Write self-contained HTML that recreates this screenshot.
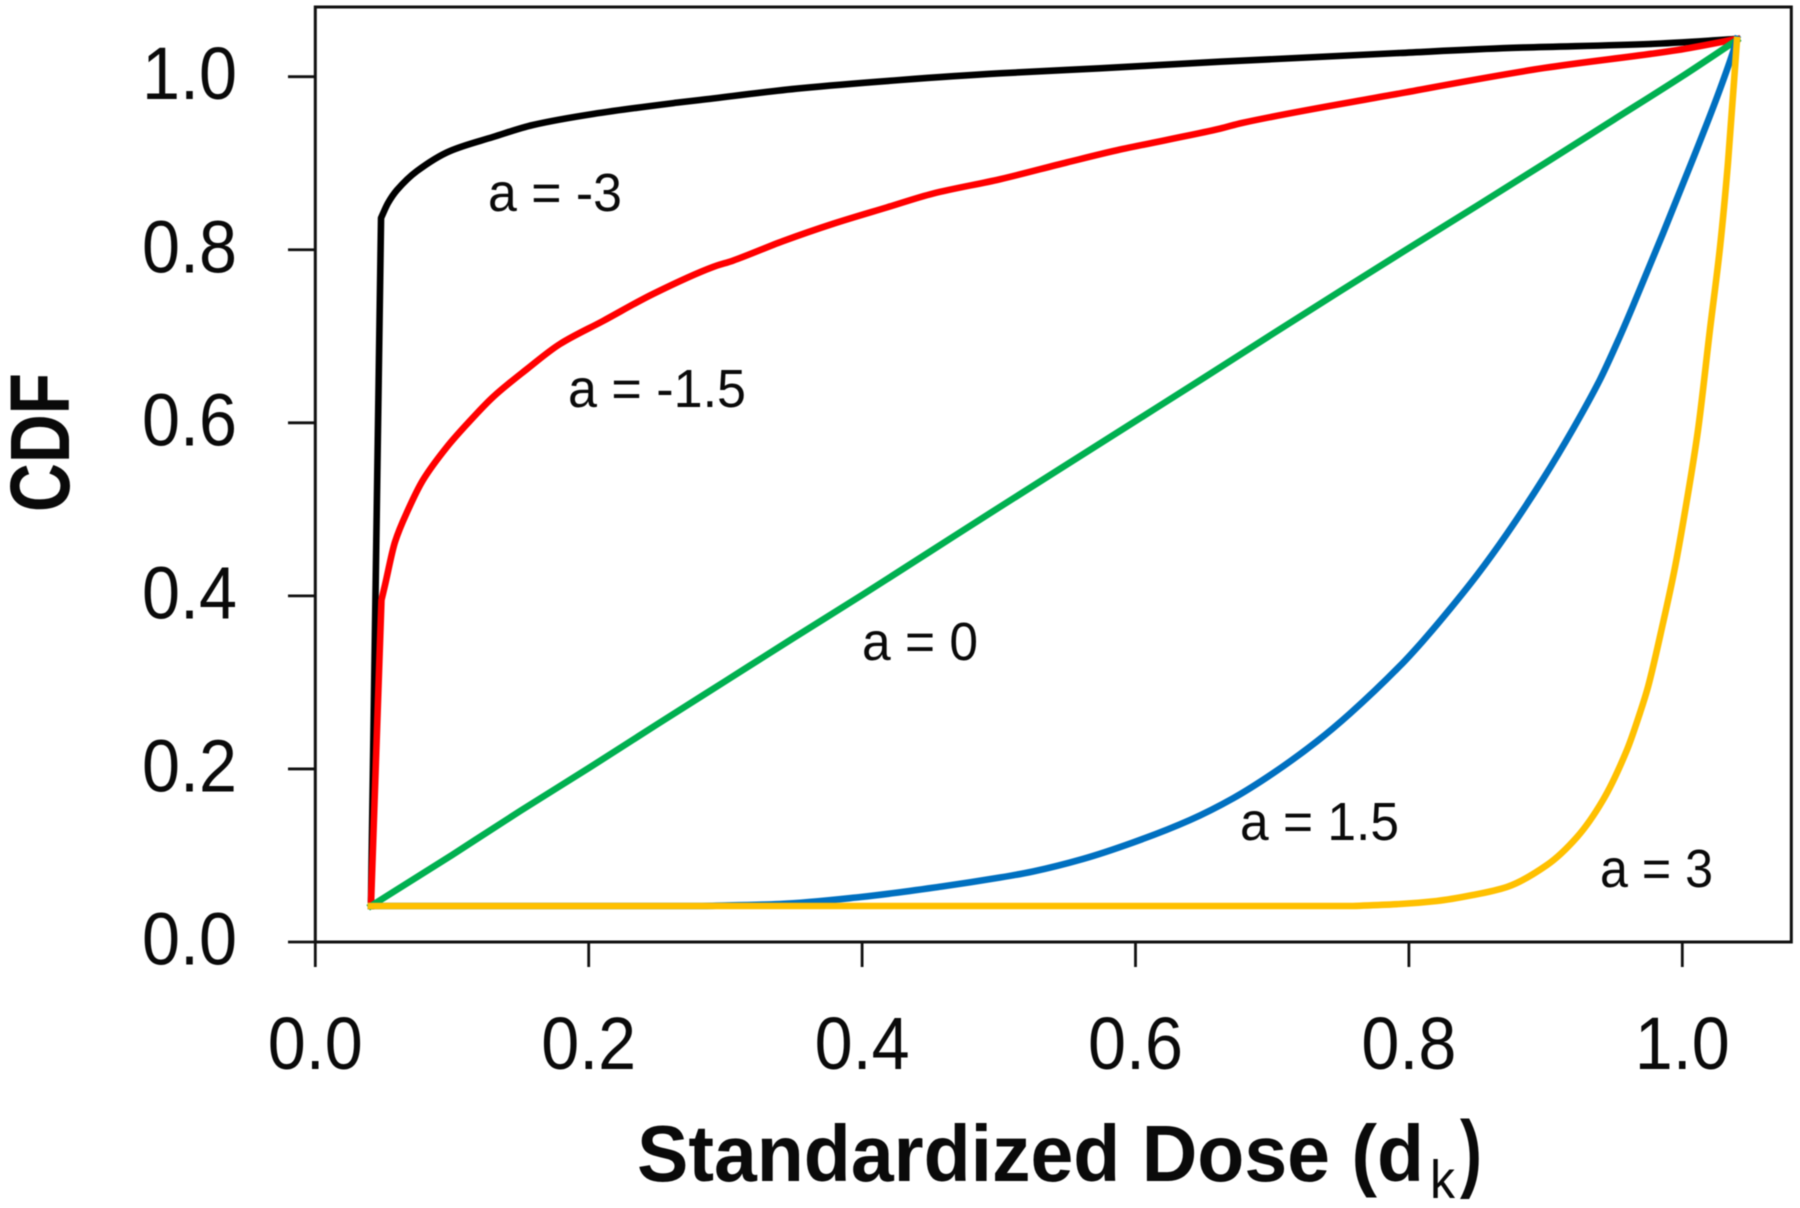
<!DOCTYPE html>
<html lang="en">
<head>
<meta charset="utf-8">
<title>CDF vs Standardized Dose</title>
<style>
  html, body { margin: 0; padding: 0; background: #fff; }
  #chart { display: block; width: 1800px; height: 1208px; filter: blur(0.5px); }
  text { font-family: "Liberation Sans", Arial, sans-serif; fill: #0a0a0a; }
</style>
</head>
<body>
<svg id="chart" xmlns="http://www.w3.org/2000/svg" width="1800" height="1208" viewBox="0 0 1800 1208">
  <rect x="0" y="0" width="1800" height="1208" fill="#ffffff"/>
  <g id="series-layer"></g>
  <rect x="315.3" y="7" width="1476" height="935" fill="none" stroke="#111111" stroke-width="3"/>
  <g id="axis-layer"></g>

  <text x="488" y="211" font-size="54" textLength="134" lengthAdjust="spacingAndGlyphs">a = -3</text>
  <text x="568" y="407" font-size="54" textLength="178" lengthAdjust="spacingAndGlyphs">a = -1.5</text>
  <text x="862" y="660" font-size="54" textLength="116" lengthAdjust="spacingAndGlyphs">a = 0</text>
  <text x="1240" y="840" font-size="54" textLength="159" lengthAdjust="spacingAndGlyphs">a = 1.5</text>
  <text x="1600" y="887" font-size="54" textLength="113" lengthAdjust="spacingAndGlyphs">a = 3</text>

  <text transform="translate(69 512) rotate(-90)" x="0" y="0" font-size="84" font-weight="700" textLength="139" lengthAdjust="spacingAndGlyphs">CDF</text>

  <text x="637" y="1181" font-size="80" font-weight="700" textLength="787" lengthAdjust="spacingAndGlyphs">Standardized Dose (d</text>
  <text x="1430" y="1198" font-size="54" textLength="25" lengthAdjust="spacingAndGlyphs">k</text>
  <text x="1460" y="1181" font-size="86" font-weight="700" textLength="22" lengthAdjust="spacingAndGlyphs">)</text>
</svg>

<script>
// Tick values and labels
const xTickValues = [0, 0.2, 0.4, 0.6, 0.8, 1.0];
const yTickValues = [0, 0.2, 0.4, 0.6, 0.8, 1.0];
const xTickLabels = ["0.0", "0.2", "0.4", "0.6", "0.8", "1.0"];
const yTickLabels = ["0.0", "0.2", "0.4", "0.6", "0.8", "1.0"];

// a = -3
const blackDose = [0.0407, 0.0481, 0.0532, 0.0598, 0.0744, 0.0985, 0.1300, 0.1592, 0.2031, 0.2646, 0.2814, 0.3546, 0.4278, 0.5009, 0.5741, 0.6619, 0.7934, 0.8739, 0.9763, 1.0400];
const blackCdf  = [0.0416, 0.8367, 0.8540, 0.8691, 0.8910, 0.9141, 0.9303, 0.9442, 0.9569, 0.9700, 0.9731, 0.9866, 0.9962, 1.0039, 1.0097, 1.0173, 1.0274, 1.0332, 1.0378, 1.0436];

// a = -1.5
const redDose = [0.0407, 0.0484, 0.0510, 0.0583, 0.0678, 0.0788, 0.0963, 0.1110, 0.1300, 0.1549, 0.1790, 0.2105, 0.2470, 0.2909, 0.3056, 0.3421, 0.3787, 0.4182, 0.4519, 0.5009, 0.5499, 0.5865, 0.6231, 0.6619, 0.6778, 0.7868, 0.8987, 0.9967, 1.0400];
const redCdf  = [0.0416, 0.3952, 0.4126, 0.4623, 0.4992, 0.5339, 0.5721, 0.5986, 0.6298, 0.6622, 0.6911, 0.7177, 0.7489, 0.7801, 0.7875, 0.8100, 0.8300, 0.8490, 0.8650, 0.8815, 0.9010, 0.9150, 0.9270, 0.9400, 0.9465, 0.9788, 1.0100, 1.0309, 1.0436];

// a = 0
const greenDose = [0.0407, 0.1000, 0.1500, 0.2000, 0.2500, 0.3000, 0.3500, 0.4000, 0.4500, 0.5000, 0.5500, 0.6000, 0.6500, 0.7000, 0.7500, 0.8000, 0.8500, 0.9000, 0.9500, 1.0000, 1.0400];
const greenCdf  = [0.0416, 0.1005, 0.1515, 0.2010, 0.2515, 0.3015, 0.3515, 0.4010, 0.4515, 0.5020, 0.5520, 0.6020, 0.6520, 0.7025, 0.7525, 0.8020, 0.8510, 0.9005, 0.9505, 1.0005, 1.0424];

// a = 1.5
const blueDose = [0.0407, 0.2829, 0.3398, 0.3991, 0.4577, 0.5009, 0.5250, 0.5616, 0.5982, 0.6399, 0.6713, 0.7006, 0.7328, 0.7569, 0.7934, 0.8103, 0.8301, 0.8498, 0.8718, 0.8981, 0.9201, 0.9398, 0.9544, 0.9639, 0.9859, 1.0078, 1.0253, 1.0370, 1.0400];
const blueCdf  = [0.0416, 0.0416, 0.0439, 0.0520, 0.0640, 0.0745, 0.0815, 0.0960, 0.1150, 0.1410, 0.1660, 0.1950, 0.2320, 0.2640, 0.3190, 0.3480, 0.3850, 0.4240, 0.4720, 0.5350, 0.5930, 0.6500, 0.7000, 0.7350, 0.8190, 0.9050, 0.9760, 1.0280, 1.0436];

// a = 3
const yellowDose = [0.0407, 0.7591, 0.7934, 0.8204, 0.8468, 0.8717, 0.9010, 0.9230, 0.9420, 0.9595, 0.9690, 0.9749, 0.9859, 0.9947, 1.0034, 1.0115, 1.0202, 1.0276, 1.0334, 1.0400];
const yellowCdf  = [0.0416, 0.0416, 0.0439, 0.0474, 0.0543, 0.0636, 0.0890, 0.1213, 0.1641, 0.2219, 0.2646, 0.2947, 0.3687, 0.4334, 0.5108, 0.5917, 0.7073, 0.8032, 0.9003, 1.0424];

const SVG_NS = "http://www.w3.org/2000/svg";
const xScale = function (v) { return 315.3 + 1367 * v; };
const yScale = function (v) { return 942 - 865.3 * v; };

// Straight first segment (the sharp corner), then a monotone cubic through the remaining points.
function linePath(xs, ys) {
  const px = xs.map(xScale);
  const py = ys.map(yScale);
  const n = px.length;
  const slopes = [];
  for (let i = 1; i < n - 1; i++) {
    slopes[i] = (py[i + 1] - py[i]) / Math.max(px[i + 1] - px[i], 0.001);
  }
  const tangents = [];
  for (let i = 1; i < n; i++) {
    if (i === 1) {
      tangents[i] = slopes[1];
    } else if (i === n - 1) {
      tangents[i] = slopes[n - 2];
    } else {
      const a = slopes[i - 1];
      const b = slopes[i];
      tangents[i] = a * b <= 0 ? 0 : 2 * a * b / (a + b);
    }
  }
  let d = "M" + px[0].toFixed(2) + " " + py[0].toFixed(2) + " L" + px[1].toFixed(2) + " " + py[1].toFixed(2);
  for (let i = 1; i < n - 1; i++) {
    const h = (px[i + 1] - px[i]) / 3;
    d += " C" + (px[i] + h).toFixed(2) + " " + (py[i] + h * tangents[i]).toFixed(2) + " " +
         (px[i + 1] - h).toFixed(2) + " " + (py[i + 1] - h * tangents[i + 1]).toFixed(2) + " " +
         px[i + 1].toFixed(2) + " " + py[i + 1].toFixed(2);
  }
  return d;
}

const seriesLayer = document.getElementById("series-layer");
const axisLayer = document.getElementById("axis-layer");

function drawSeries(name, xs, ys, color) {
  const path = document.createElementNS(SVG_NS, "path");
  
  
  path.setAttribute("d", linePath(xs, ys));
  path.setAttribute("fill", "none");
  path.setAttribute("stroke", color);
  path.setAttribute("stroke-width", "6.6");
  path.setAttribute("stroke-linejoin", "round");
  path.setAttribute("stroke-linecap", "square");
  seriesLayer.appendChild(path);
}

drawSeries("series-a-minus-3", blackDose, blackCdf, "#000000");
drawSeries("series-a-minus-1-5", redDose, redCdf, "#ff0000");
drawSeries("series-a-0", greenDose, greenCdf, "#00b050");
drawSeries("series-a-1-5", blueDose, blueCdf, "#0070c0");
drawSeries("series-a-3", yellowDose, yellowCdf, "#ffc000");

xTickValues.forEach(function (v, i) {
  const tick = document.createElementNS(SVG_NS, "line");
  
  
  tick.setAttribute("x1", xScale(v));
  tick.setAttribute("x2", xScale(v));
  tick.setAttribute("y1", 942);
  tick.setAttribute("y2", 967);
  tick.setAttribute("stroke", "#111111");
  tick.setAttribute("stroke-width", "2.8");
  axisLayer.appendChild(tick);

  const label = document.createElementNS(SVG_NS, "text");
  
  
  label.setAttribute("x", xScale(v) - 47.5);
  label.setAttribute("y", 1069);
  label.setAttribute("font-size", "74");
  label.setAttribute("textLength", "95");
  label.setAttribute("lengthAdjust", "spacingAndGlyphs");
  label.textContent = xTickLabels[i];
  axisLayer.appendChild(label);
});

yTickValues.forEach(function (v, i) {
  const tick = document.createElementNS(SVG_NS, "line");
  
  
  tick.setAttribute("x1", 288);
  tick.setAttribute("x2", 315.3);
  tick.setAttribute("y1", yScale(v));
  tick.setAttribute("y2", yScale(v));
  tick.setAttribute("stroke", "#111111");
  tick.setAttribute("stroke-width", "2.8");
  axisLayer.appendChild(tick);

  const label = document.createElementNS(SVG_NS, "text");
  
  
  label.setAttribute("x", 142);
  label.setAttribute("y", yScale(v) + 22.5);
  label.setAttribute("font-size", "74");
  label.setAttribute("textLength", "95");
  label.setAttribute("lengthAdjust", "spacingAndGlyphs");
  label.textContent = yTickLabels[i];
  axisLayer.appendChild(label);
});
</script>
</body>
</html>
